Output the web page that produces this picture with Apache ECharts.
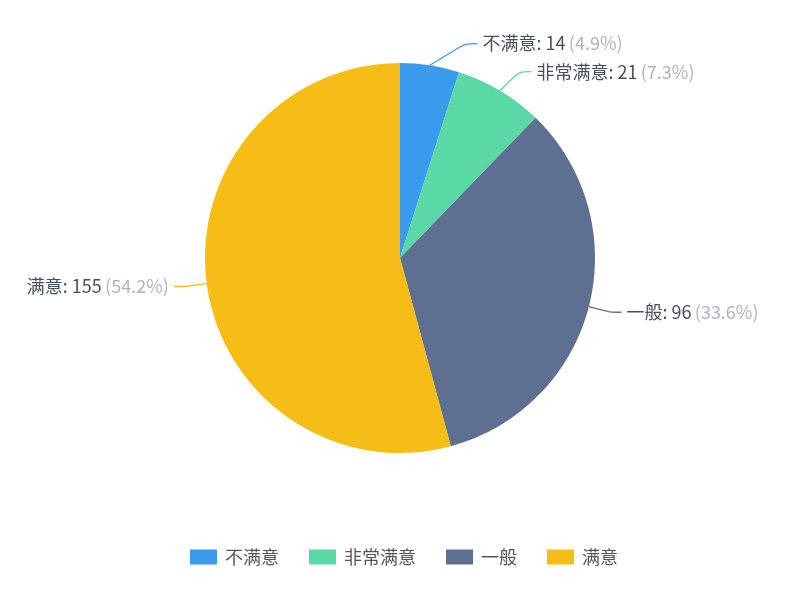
<!DOCTYPE html>
<html>
<head>
<meta charset="utf-8">
<script src="https://cdn.jsdelivr.net/npm/echarts@6/dist/echarts.min.js"></script>
<style>
html, body { margin: 0; padding: 0; background: #fff; }
#main { width: 788px; height: 590px; }
</style>
</head>
<body>
<div id="main"></div>
<script>
var categories = ['不满意', '非常满意', '一般', '满意'];
var values = [14, 21, 96, 155];
var colors = ['#3a9bec', '#5ad8a6', '#5d7092', '#f6bd16'];

var myChart = echarts.init(document.getElementById('main'));

var pieData = categories.map(function (name, i) {
    return { name: name, value: values[i] };
});

// pie geometry, labels are spread on an arc like the older layout did
var cx = 400, cy = 258, r = 195;
var len = 21, len2 = 12, gap = 5;

var option = {
    color: colors,
    legend: {
        bottom: 19,
        left: 185,
        icon: 'rect',
        itemWidth: 27,
        itemHeight: 15,
        itemGap: 30,
        itemStyle: { borderWidth: 0 },
        textStyle: {
            fontSize: 18,
            color: '#555',
            padding: [0, 0, 0, 3],
            fontFamily: 'Noto Sans CJK SC'
        },
        data: categories
    },
    series: [
        {
            type: 'pie',
            center: [cx, cy],
            radius: [0, r],
            startAngle: 90,
            data: pieData,
            itemStyle: { borderWidth: 0 },
            label: {
                show: true,
                formatter: function (params) {
                    return '{n|' + params.name + ': ' + params.value + '} {p|(' + params.percent.toFixed(1) + '%)}';
                },
                rich: {
                    n: { fontSize: 18, color: '#464f60', fontFamily: 'Noto Sans CJK SC' },
                    p: { fontSize: 18, color: '#aeb3c3', fontFamily: 'Noto Sans CJK SC' }
                }
            },
            labelLine: {
                show: true,
                length: 22,
                length2: 20,
                smooth: true,
                lineStyle: { width: 1.3 }
            },
            labelLayout: function (params) {
                var pts = params.labelLinePoints;
                if (!pts) return {};
                var rect = params.labelRect;
                var y = rect.y + rect.height / 2;
                var dir = pts[0][0] >= cx ? 1 : -1;
                var outer = r + len + len2;
                var dy = Math.abs(y - cy);
                var dx = Math.sqrt(Math.max(outer * outer - dy * dy, 0));
                var endX = cx + dir * dx;
                return {
                    x: endX + dir * gap,
                    y: y,
                    labelLinePoints: [pts[0], [endX - dir * len2, y], [endX, y]]
                };
            },
            emphasis: { scale: false }
        }
    ]
};

myChart.setOption(option);
</script>
</body>
</html>
